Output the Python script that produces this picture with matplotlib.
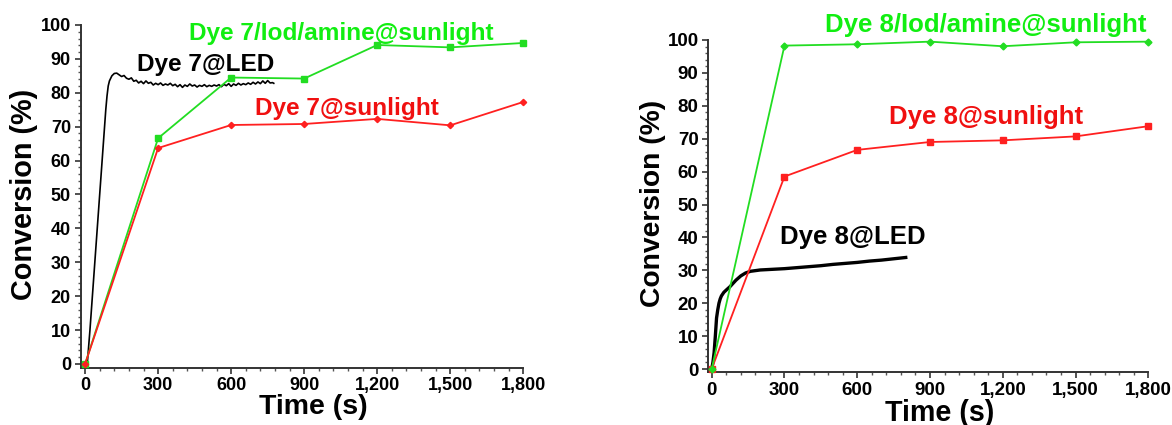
import matplotlib
matplotlib.use("Agg")
import matplotlib.pyplot as plt
from matplotlib.ticker import MultipleLocator, FuncFormatter

plt.rcParams['font.family'] = ['Liberation Sans', 'DejaVu Sans']
plt.rcParams['font.weight'] = 'bold'

# ---- data ----
time_pts = [0, 300, 600, 900, 1200, 1500, 1800]

dye7_iod_sun = [0, 66.6, 84.5, 84.2, 94.1, 93.4, 94.7]
dye7_sun = [0, 63.7, 70.5, 70.8, 72.3, 70.4, 77.3]

dye7_led_t = [0, 5, 10, 20, 30, 40, 50, 60, 70, 80, 85, 90, 95, 100, 110, 120, 130, 140,
              150, 160, 170, 180, 190, 200, 210, 220, 230, 240, 250, 260, 270, 280, 290,
              300, 310, 320, 330, 340, 350, 360, 370, 380, 390, 400, 410, 420, 430, 440,
              450, 460, 470, 480, 490, 500, 510, 520, 530, 540, 550, 560, 570, 580, 590,
              600, 610, 620, 630, 640, 650, 660, 670, 680, 690, 700, 710, 720, 730, 740,
              750, 760, 770, 775]
dye7_led_y = [0, 0, 1, 10, 20, 30, 40, 50, 60, 70, 75, 79, 82, 83.5, 85, 85.7, 85.8, 85.3,
              84.8, 85.1, 84.3, 84.0, 84.4, 83.4, 83.7, 82.9, 83.4, 82.7, 83.5, 82.8, 83.1, 82.3, 82.8,
              82.4, 82.9, 82.2, 82.6, 82.3, 82.8, 82.1, 82.5, 81.8, 82.4, 81.6, 82.3, 81.9, 82.6, 82.0,
              82.3, 81.7, 82.2, 81.9, 82.4, 81.8, 82.2, 81.9, 82.3, 82.0, 82.4, 81.8, 82.5, 82.1, 82.7,
              81.9, 82.6, 82.2, 82.8, 82.3, 82.7, 82.4, 82.9, 82.5, 83.1, 82.6, 83.2, 82.7, 83.5, 82.8,
              83.6, 82.9, 83.0, 82.8]

dye8_iod_sun = [0, 98.3, 98.7, 99.5, 98.1, 99.3, 99.5]
dye8_sun = [0, 58.5, 66.6, 69.0, 69.5, 70.7, 73.8]

dye8_led_t = [0, 5, 10, 15, 20, 25, 30, 35, 40, 50, 60, 75, 90, 100, 120, 140, 160, 200,
              250, 300, 350, 400, 450, 500, 550, 600, 650, 700, 750, 800]
dye8_led_y = [0, 2, 5, 10, 15.5, 18, 20, 21.3, 22.2, 23.3, 24, 25, 26.2, 27, 28.3, 29.2, 29.7, 30.1,
              30.3, 30.5, 30.8, 31.1, 31.4, 31.8, 32.1, 32.4, 32.8, 33.1, 33.5, 33.9]

x_ticks = [0, 300, 600, 900, 1200, 1500, 1800]
y_ticks = [0, 10, 20, 30, 40, 50, 60, 70, 80, 90, 100]

GREEN = '#22DD22'
GREEN_T = '#11EE11'
RED = '#FF2020'
RED_T = '#F01010'

W, H = 1172, 425
fig = plt.figure(figsize=(W / 100, H / 100), dpi=100)


def px_axes(l, r, b, t):
    return fig.add_axes([l / W, 1 - b / H, (r - l) / W, (b - t) / H])


def style(ax, fs):
    for s in ['top', 'right']:
        ax.spines[s].set_visible(False)
    for s in ['left', 'bottom']:
        ax.spines[s].set_linewidth(1.4)
        ax.spines[s].set_color('#333333')
    ax.set_xticks(x_ticks)
    ax.set_yticks(y_ticks)
    ax.xaxis.set_minor_locator(MultipleLocator(60))
    ax.yaxis.set_minor_locator(MultipleLocator(2))
    ax.xaxis.set_major_formatter(FuncFormatter(lambda v, p: f"{int(v):,}"))
    ax.tick_params(which='major', direction='out', length=4, width=1.2, color='#333333',
                   labelsize=fs, pad=3)
    ax.tick_params(which='minor', direction='out', length=2.5, width=1.0, color='#555555')
    ax.tick_params(axis='x', which='major', pad=3)
    for lab in ax.get_xticklabels() + ax.get_yticklabels():
        lab.set_fontweight('bold')


# ---- left panel ----
ax1 = px_axes(80.7, 523.3, 367.7, 25)
ax1.set_xlim(-18, 1800)
ax1.set_ylim(-1.1, 100)
ax1.plot(dye7_led_t, dye7_led_y, color='black', lw=1.2, zorder=3)
ax1.plot(time_pts, dye7_iod_sun, color=GREEN, lw=1.3, marker='s', ms=5, zorder=4, clip_on=False)
ax1.plot(time_pts, dye7_sun, color=RED, lw=1.3, marker='D', ms=3.2, zorder=5, clip_on=False)
style(ax1, 13)
ax1.text(427, 97.6, 'Dye 7/Iod/amine@sunlight', color=GREEN_T, fontsize=17.6,
         fontweight='bold', ha='left', va='center', clip_on=False)
ax1.text(213.6, 88.2, 'Dye 7@LED', color='black', fontsize=17.6,
         fontweight='bold', ha='left', va='center', clip_on=False)
ax1.text(697, 75.5, 'Dye 7@sunlight', color=RED_T, fontsize=17.6,
         fontweight='bold', ha='left', va='center', clip_on=False)
fig.text(24 / W, 1 - 194 / H, 'Conversion (%)', rotation=90, fontsize=20.8,
         fontweight='bold', ha='center', va='center')
fig.text(313.8 / W, 1 - 394 / H, 'Time (s)', fontsize=20.5,
         fontweight='bold', ha='center', va='top')

# ---- right panel ----
ax2 = px_axes(708.3, 1148.3, 372.3, 40)
ax2.set_xlim(-14, 1800)
ax2.set_ylim(-1.0, 100)
ax2.plot(dye8_led_t, dye8_led_y, color='black', lw=2.4, zorder=3)
ax2.plot(time_pts, dye8_iod_sun, color=GREEN, lw=1.3, marker='D', ms=3.5, zorder=5, clip_on=False)
ax2.plot(time_pts, dye8_sun, color=RED, lw=1.3, marker='s', ms=4, zorder=4, clip_on=False)
style(ax2, 13.5)
ax2.text(467, 104.6, 'Dye 8/Iod/amine@sunlight', color=GREEN_T, fontsize=18.5,
         fontweight='bold', ha='left', va='center', clip_on=False)
ax2.text(730, 76.6, 'Dye 8@sunlight', color=RED_T, fontsize=18.5,
         fontweight='bold', ha='left', va='center', clip_on=False)
ax2.text(280, 40.1, 'Dye 8@LED', color='black', fontsize=18.5,
         fontweight='bold', ha='left', va='center', clip_on=False)
fig.text(653 / W, 1 - 203.5 / H, 'Conversion (%)', rotation=90, fontsize=20.3,
         fontweight='bold', ha='center', va='center')
fig.text(940 / W, 1 - 399 / H, 'Time (s)', fontsize=20.6,
         fontweight='bold', ha='center', va='top')

fig.savefig('out.png', dpi=100)
